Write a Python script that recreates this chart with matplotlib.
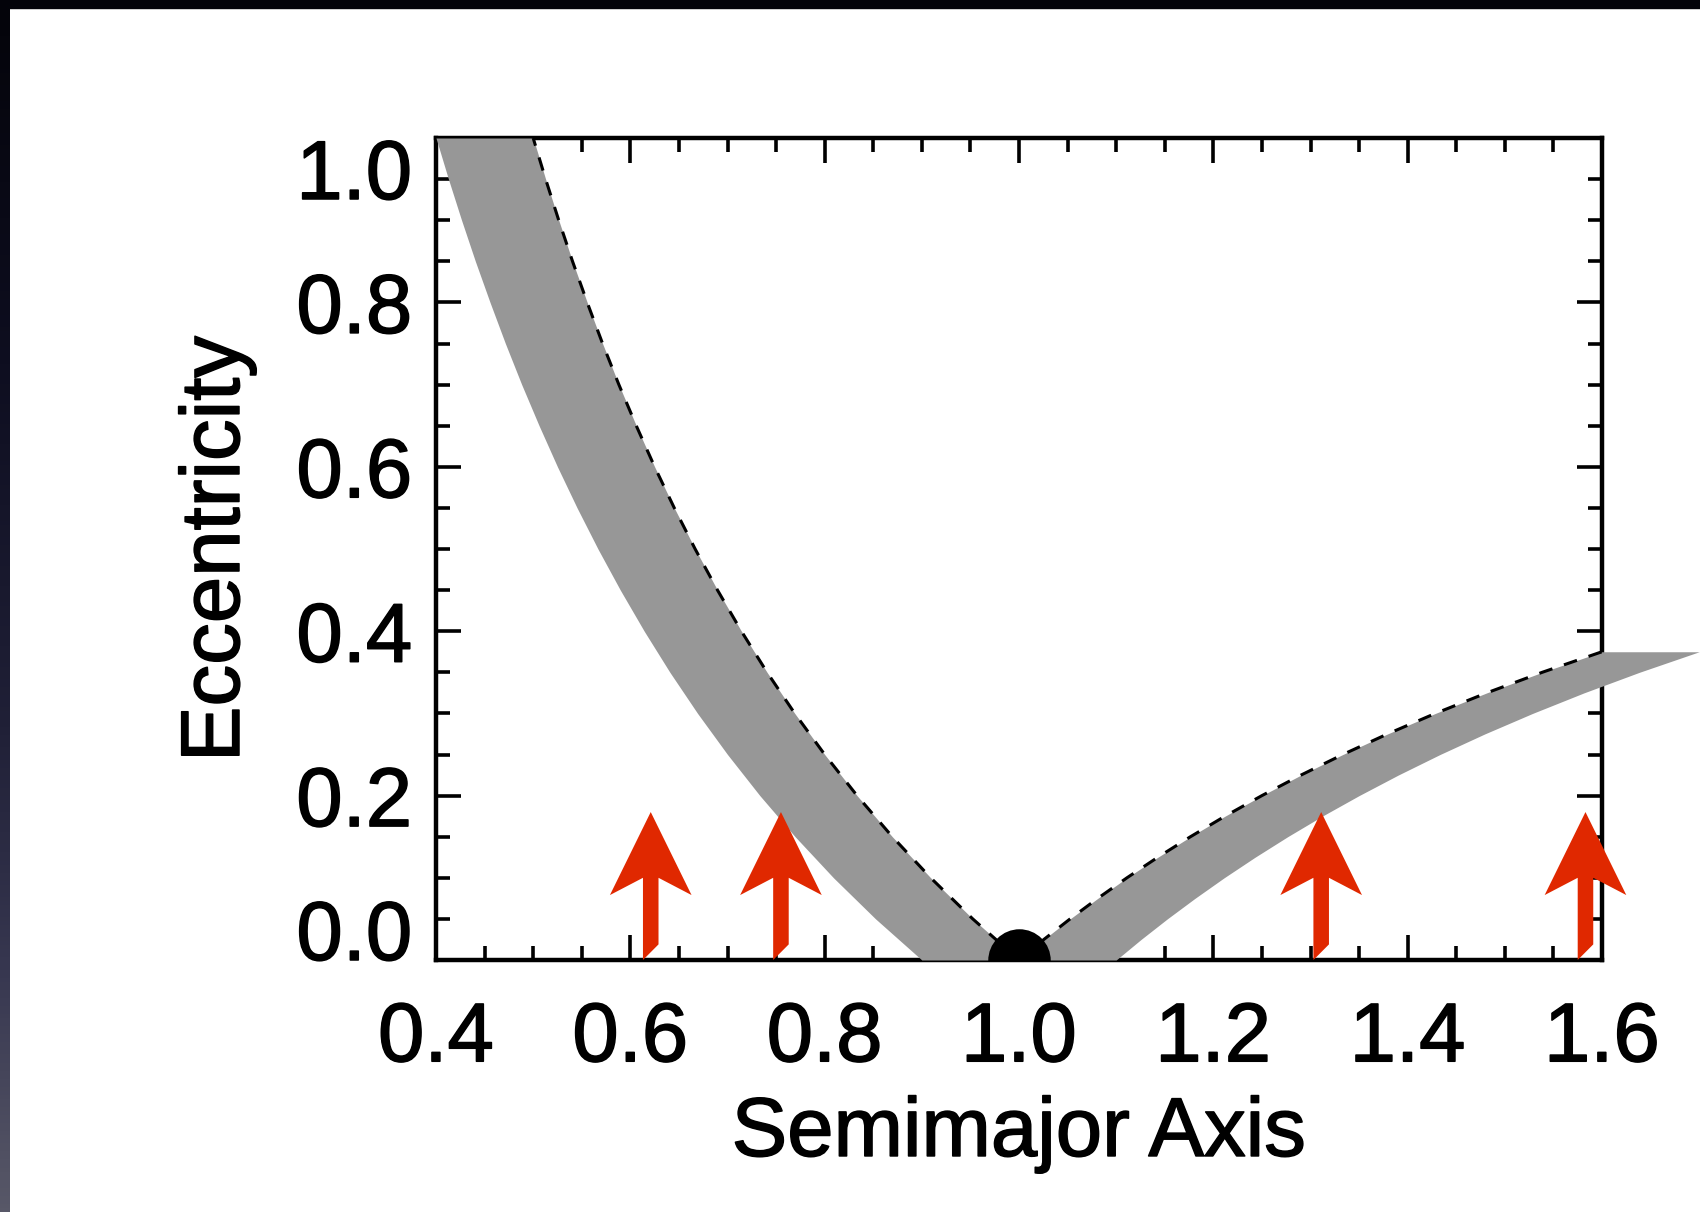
import numpy as np
import matplotlib
matplotlib.use("Agg")
import matplotlib.pyplot as plt
import matplotlib.patheffects as pe
from matplotlib.patches import Polygon, Rectangle
from matplotlib.ticker import MultipleLocator, FormatStrFormatter

plt.rcParams['font.family'] = ['Liberation Sans', 'DejaVu Sans']

#--------------------------------------------------------------------------------------------------
# inner crossing band (a < 1): eccentricity levels, dashed crossing curve, inner edge of the band
e_in = [0.0, 0.05, 0.10, 0.15, 0.20, 0.25, 0.30, 0.35, 0.40, 0.45, 0.50,
        0.55, 0.60, 0.65, 0.70, 0.75, 0.80, 0.85, 0.90, 0.95, 1.0]
a_in_cross = [1.0, 0.9524, 0.9091, 0.8696, 0.8333, 0.8, 0.7692, 0.7407, 0.7143, 0.6897, 0.6667,
              0.6452, 0.625, 0.6061, 0.5882, 0.5714, 0.5556, 0.5405, 0.5263, 0.5128, 0.5]
a_in_edge = [0.9, 0.8524, 0.8091, 0.7696, 0.7333, 0.7, 0.6692, 0.6407, 0.6143, 0.5897, 0.5667,
             0.5452, 0.525, 0.5061, 0.4882, 0.4714, 0.4556, 0.4405, 0.4263, 0.4128, 0.4]

# outer crossing band (a > 1)
e_out = [0.0, 0.025, 0.05, 0.075, 0.10, 0.125, 0.15, 0.175, 0.20,
         0.225, 0.25, 0.275, 0.30, 0.325, 0.35, 0.375]
a_out_cross = [1.0, 1.0256, 1.0526, 1.0811, 1.1111, 1.1429, 1.1765, 1.2121, 1.25,
               1.2903, 1.3333, 1.3793, 1.4286, 1.4815, 1.5385, 1.6]
a_out_edge = [1.1, 1.1256, 1.1526, 1.1811, 1.2111, 1.2429, 1.2765, 1.3121, 1.35,
              1.3903, 1.4333, 1.4793, 1.5286, 1.5815, 1.6385, 1.7]

planet_a = [1.0]
planet_e = [0.0]

arrow_a = [0.621, 0.755, 1.311, 1.583]
arrow_tip = 0.18

xticks = [0.4, 0.6, 0.8, 1.0, 1.2, 1.4, 1.6]
yticks = [0.0, 0.2, 0.4, 0.6, 0.8, 1.0]

#--------------------------------------------------------------------------------------------------
band_col = '#979797'
red = '#e02800'
fs = 60
bold_fx = [pe.withStroke(linewidth=1.1, foreground='k')]

fig = plt.figure(figsize=(17, 12.12), dpi=100)
fig.patch.set_facecolor('white')

# dark slide edge on the left (gradient) and top
strip = fig.add_axes([0, 0, 10/1700, 1])
stops_y = [0.0, 0.3, 0.6, 0.8, 1.0]
stops_c = [(4, 4, 10), (14, 14, 32), (32, 32, 55), (55, 55, 80), (88, 88, 104)]
yy = np.linspace(0, 1, 300)
grad = np.stack([np.interp(yy, stops_y, [c[k] for c in stops_c]) for k in range(3)], axis=-1) / 255.
strip.imshow(grad[:, None, :], aspect='auto', extent=[0, 1, 1, 0])
strip.axis('off')
fig.add_artist(Rectangle((0, 1 - 8/1212), 1, 8/1212, transform=fig.transFigure,
                         color='#03030a', zorder=10))

ax = fig.add_axes([436/1700, 1 - 960/1212, 1166/1700, 822/1212])

ax.fill_betweenx(e_in, a_in_edge, a_in_cross, color=band_col, lw=0, zorder=3, clip_on=False)
ax.fill_betweenx(e_out, a_out_cross, a_out_edge, color=band_col, lw=0, zorder=3, clip_on=False)

ax.plot(a_in_cross, e_in, color='k', lw=2.2, dashes=(4.5, 4.0), zorder=4)
ax.plot(a_out_cross, e_out, color='k', lw=2.2, dashes=(4.5, 4.0), zorder=4)

ax.plot(planet_a, planet_e, 'o', color='k', ms=45, mew=0, zorder=5)

# notched arrows (head width / lengths in data units)
hw, sw = 0.084, 0.016
barb, notch, cut = 0.079, 0.10, 0.019
for xa in arrow_a:
    verts = [(xa - sw/2, 0.0), (xa - sw/2, notch), (xa - hw/2, barb), (xa, arrow_tip),
             (xa + hw/2, barb), (xa + sw/2, notch), (xa + sw/2, cut)]
    ax.add_patch(Polygon(verts, closed=True, color=red, lw=0, zorder=6, clip_on=False))

ax.set_xlim(0.4, 1.6)
ax.set_ylim(0.0, 1.0)
ax.set_xticks(xticks)
ax.set_yticks(yticks)
ax.xaxis.set_minor_locator(MultipleLocator(0.05))
ax.yaxis.set_minor_locator(MultipleLocator(0.05))
ax.xaxis.set_major_formatter(FormatStrFormatter('%.1f'))
ax.yaxis.set_major_formatter(FormatStrFormatter('%.1f'))

ax.tick_params(which='both', direction='in', top=True, right=True, width=2.6, labelsize=fs)
ax.tick_params(which='major', length=18)
ax.tick_params(which='minor', length=10)
ax.tick_params(axis='x', which='major', pad=29)
ax.tick_params(axis='y', which='major', pad=17)
for s in ax.spines.values():
    s.set_linewidth(3.2)

for lab in ax.get_xticklabels() + ax.get_yticklabels():
    lab.set_path_effects(bold_fx)
ylabs = ax.get_yticklabels()
ylabs[0].set_va('baseline')
ylabs[-1].set_va('top')

ax.set_xlabel('Semimajor Axis', fontsize=fs, labelpad=12, path_effects=bold_fx)
ax.set_ylabel('Eccentricity', fontsize=fs, labelpad=29, path_effects=bold_fx)

plt.savefig('out.png', dpi=100)
